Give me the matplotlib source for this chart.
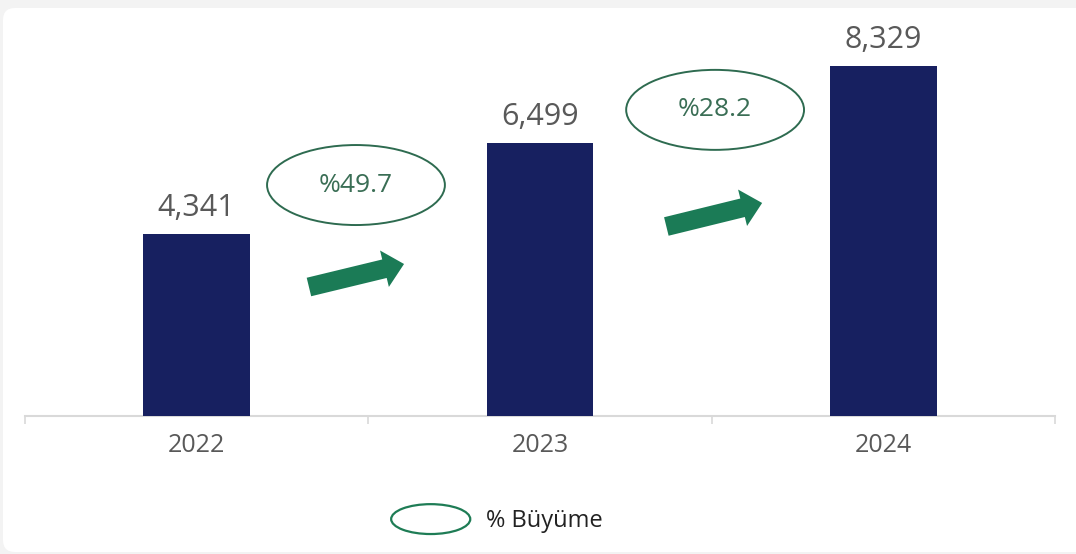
import matplotlib
matplotlib.use('Agg')
import matplotlib.pyplot as plt
from matplotlib.patches import Ellipse, FancyArrowPatch, FancyBboxPatch
from matplotlib.legend_handler import HandlerPatch

years = ['2022', '2023', '2024']
values = [4341, 6499, 8329]
growth = [49.7, 28.2]
legend_label = '% Büyüme'

# where the growth bubbles and arrows sit (data coords)
bubble_x = [0.464, 1.51]
bubble_y = [5500, 7290]
arrow_tail = [(0.327, 3072), (1.368, 4513)]
arrow_tip = [(0.604, 3620), (1.647, 5073)]

navy = '#172060'
green = '#1b7b56'
dark_green = '#2e6b50'
gray_text = '#595959'
axis_gray = '#d9d9d9'

plt.rcParams['font.family'] = ['Open Sans', 'DejaVu Sans']


class HandlerEllipse(HandlerPatch):
    def create_artists(self, legend, orig_handle, xdescent, ydescent,
                       width, height, fontsize, trans):
        center = (0.5 * width - xdescent, 0.5 * height - ydescent)
        p = Ellipse(xy=center, width=width, height=height)
        self.update_prop(p, orig_handle, legend)
        p.set_transform(trans)
        return [p]


fig = plt.figure(figsize=(10.76, 5.54), dpi=100, facecolor='#f3f3f3')

# white rounded card behind everything
card = FancyBboxPatch((0.03, 0.02), 10.9, 5.44,
                      boxstyle='round,pad=0,rounding_size=0.12',
                      transform=fig.dpi_scale_trans,
                      facecolor='white', edgecolor='none', zorder=-10)
fig.patches.append(card)

ax = fig.add_axes([25 / 1076, 138 / 554, 1030 / 1076, 396 / 554])
ax.set_facecolor('none')

x = range(len(years))
ax.bar(x, values, width=0.31, color=navy, zorder=3)

for i, v in enumerate(values):
    ax.annotate(f'{v:,}', (i, v), xytext=(0, 13), textcoords='offset points',
                ha='center', va='baseline', fontsize=22, color=gray_text)

for g, bx, by in zip(growth, bubble_x, bubble_y):
    ax.add_patch(Ellipse((bx, by), width=0.518, height=1905,
                         facecolor='white', edgecolor=dark_green, lw=1.4, zorder=4))
    ax.text(bx, by, f'%{g}', ha='center', va='center', fontsize=19,
            color='#3a6e55', zorder=5)

for tail, tip in zip(arrow_tail, arrow_tip):
    ax.add_patch(FancyArrowPatch(tail, tip,
                                 arrowstyle='simple,head_length=14.5,head_width=27,tail_width=13.7',
                                 mutation_scale=1, shrinkA=0, shrinkB=0,
                                 facecolor=green, edgecolor='none', zorder=4))

ax.set_xlim(-0.5, 2.5)
ax.set_ylim(0, 9430)
ax.set_yticks([])
ax.set_xticks(list(x), years)
ax.set_xticks([-0.5, 0.5, 1.5, 2.5], minor=True)
ax.tick_params(axis='x', which='major', length=0, pad=12, labelsize=18,
               labelcolor=gray_text)
ax.tick_params(axis='x', which='minor', length=6, width=1.2, color=axis_gray)
for side in ['left', 'top', 'right']:
    ax.spines[side].set_visible(False)
ax.spines['bottom'].set_color(axis_gray)
ax.spines['bottom'].set_linewidth(1.5)

proxy = Ellipse((0, 0), 1, 1, facecolor='white', edgecolor='#1e7c55', lw=1.6)
ax.legend([proxy], [legend_label], handler_map={Ellipse: HandlerEllipse()},
          loc='center', bbox_to_anchor=(0.462, 0.063),
          bbox_transform=fig.transFigure, frameon=False, fontsize=17,
          labelcolor='#222222', handlelength=3.35, handleheight=1.57,
          handletextpad=0.68, borderpad=0, borderaxespad=0)

fig.savefig('out.png', dpi=100, facecolor=fig.get_facecolor())
